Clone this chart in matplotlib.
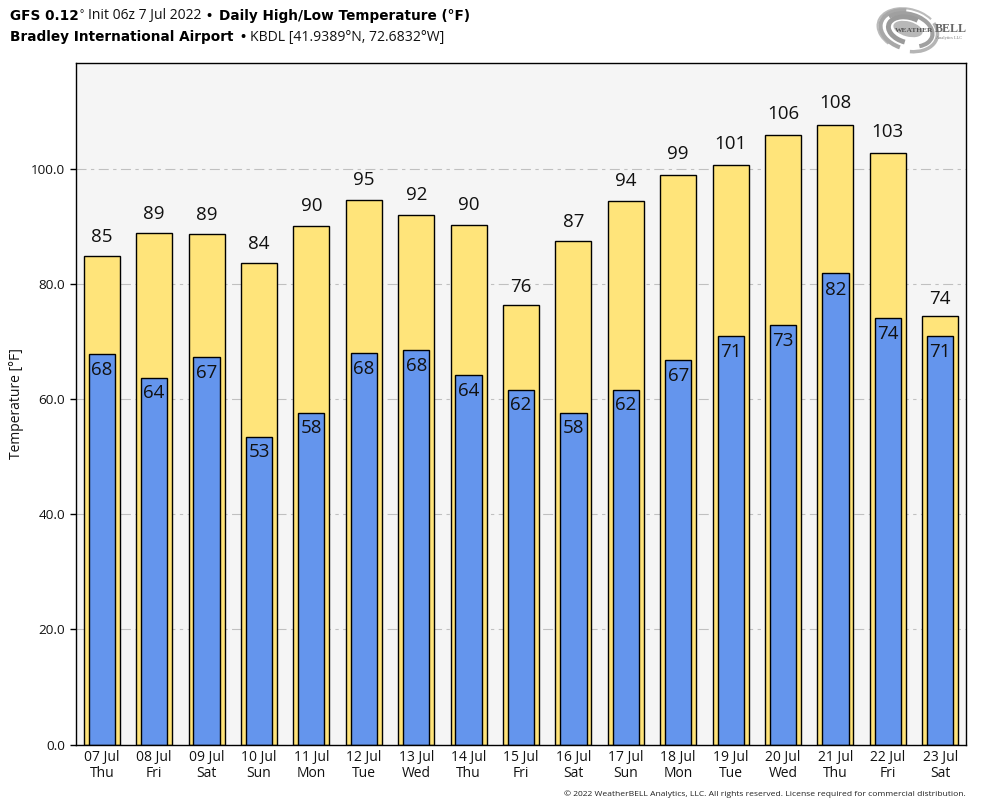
import matplotlib
matplotlib.use("Agg")
import matplotlib.pyplot as plt
from matplotlib.patches import Arc, Ellipse

dates = ["07 Jul", "08 Jul", "09 Jul", "10 Jul", "11 Jul", "12 Jul", "13 Jul", "14 Jul", "15 Jul",
         "16 Jul", "17 Jul", "18 Jul", "19 Jul", "20 Jul", "21 Jul", "22 Jul", "23 Jul"]
days = ["Thu", "Fri", "Sat", "Sun", "Mon", "Tue", "Wed", "Thu", "Fri",
        "Sat", "Sun", "Mon", "Tue", "Wed", "Thu", "Fri", "Sat"]
highs = [84.9, 88.9, 88.7, 83.7, 90.1, 94.6, 92.0, 90.3, 76.4,
         87.4, 94.4, 99.0, 100.7, 105.9, 107.7, 102.8, 74.4]
lows = [67.9, 63.7, 67.3, 53.4, 57.6, 68.0, 68.5, 64.2, 61.6,
        57.6, 61.6, 66.8, 71.0, 72.9, 81.9, 74.1, 71.0]
y_ticks = [0, 20, 40, 60, 80, 100]

plt.rcParams['font.family'] = ['Open Sans', 'DejaVu Sans']
text_color = '#111111'

W, H = 984, 808
fig = plt.figure(figsize=(W / 100, H / 100), dpi=100)
ax = fig.add_axes([76 / W, 1 - 744.5 / H, 890 / W, 681.5 / H])
ax.set_facecolor('#f5f5f5')

x = list(range(len(dates)))
ax.bar(x, highs, width=0.69, color='#ffe47a', edgecolor='black', linewidth=1, zorder=3)
ax.bar(x, lows, width=0.5, color='#6495ed', edgecolor='black', linewidth=1, zorder=4)

# labels sit a little further from the bar as the value grows
for i in x:
    ax.annotate(str(round(highs[i])), (i, highs[i] * 1.022), xytext=(0, -1), textcoords='offset pixels',
                ha='center', va='bottom', fontsize=13.5, color=text_color, zorder=5)
    ax.annotate(str(round(lows[i])), (i, lows[i] * 0.985), xytext=(0, -1), textcoords='offset pixels',
                ha='center', va='top', fontsize=13.5, color=text_color, zorder=5)

ax.set_xlim(-0.492, 16.492)
ax.set_ylim(0, 118.4)
ax.set_xticks(x)
ax.set_xticklabels([d + "\n" + w for d, w in zip(dates, days)], fontsize=10, linespacing=1.1, color=text_color)
ax.set_yticks(y_ticks)
ax.set_yticklabels(["%.1f" % t for t in y_ticks], fontsize=9.7, color=text_color)
ax.tick_params(axis='x', length=0, pad=4)
ax.tick_params(axis='y', length=4.5, width=1)
ax.grid(axis='y', color='#c0c0c0', linestyle=(0, (9, 4, 3, 4)), linewidth=0.8, zorder=1)
ax.set_axisbelow(True)
ax.set_ylabel("Temperature [°F]", fontsize=10, labelpad=5, color=text_color)
for s in ax.spines.values():
    s.set_linewidth(1)
    s.set_zorder(6)

# header
fig.text(10 / W, 1 - 16 / H, "GFS 0.12", fontsize=9.8, fontweight='bold', family='DejaVu Sans', va='center')
fig.text(79 / W, 1 - 15 / H, "°", fontsize=7, va='center')
fig.text(88 / W, 1 - 16 / H, "Init 06z 7 Jul 2022", fontsize=10, va='center', color=text_color)
fig.text(206 / W, 1 - 16 / H, "•", fontsize=10, fontweight='bold', va='center')
fig.text(219 / W, 1 - 16 / H, "Daily High/Low Temperature (°F)", fontsize=9.85, fontweight='bold',
         family='DejaVu Sans', va='center')
fig.text(10 / W, 1 - 37 / H, "Bradley International Airport", fontsize=9.8, fontweight='bold',
         family='DejaVu Sans', va='center')
fig.text(240 / W, 1 - 37 / H, "•", fontsize=10, fontweight='bold', va='center')
fig.text(250 / W, 1 - 37 / H, "KBDL [41.9389°N, 72.6832°W]", fontsize=10.05, va='center', color=text_color)

fig.text(966 / W, 1 - 794 / H, "© 2022 WeatherBELL Analytics, LLC. All rights reserved. License required for commercial distribution.",
         fontsize=6.1, ha='right', va='center', color='#222222')

# logo, swirl plus name
logo = fig.add_axes([876 / W, 1 - 56 / H, 94 / W, 50 / H])
logo.set_xlim(876, 970)
logo.set_ylim(56, 6)
logo.axis('off')
logo.add_patch(Ellipse((908, 29), 30, 15, angle=15, color='#b8b8b8', linewidth=0))
for w, h, a, b, lw, c in [(62, 42, 130, 320, 1.5, '#bbbbbb'), (56, 38, 100, 250, 3, '#a8a8a8'),
                          (50, 32, 200, 400, 3, '#a0a0a0'), (40, 25, 90, 300, 3.5, '#9a9a9a'),
                          (60, 42, 330, 430, 2.5, '#b5b5b5')]:
    logo.add_patch(Arc((908, 30), w, h, angle=15, theta1=a, theta2=b, color=c, linewidth=lw))
logo.text(895, 30, "WEATHER", fontsize=5.4, family='Liberation Serif', fontweight='bold', color='#555555', va='center')
logo.text(935, 29, "BELL", fontsize=8.6, family='Liberation Serif', fontweight='bold', color='#666666', va='center')
logo.text(936, 38, "Analytics LLC", fontsize=3.2, family='Liberation Serif', color='#777777', va='center')

fig.savefig('out.png', dpi=100)
